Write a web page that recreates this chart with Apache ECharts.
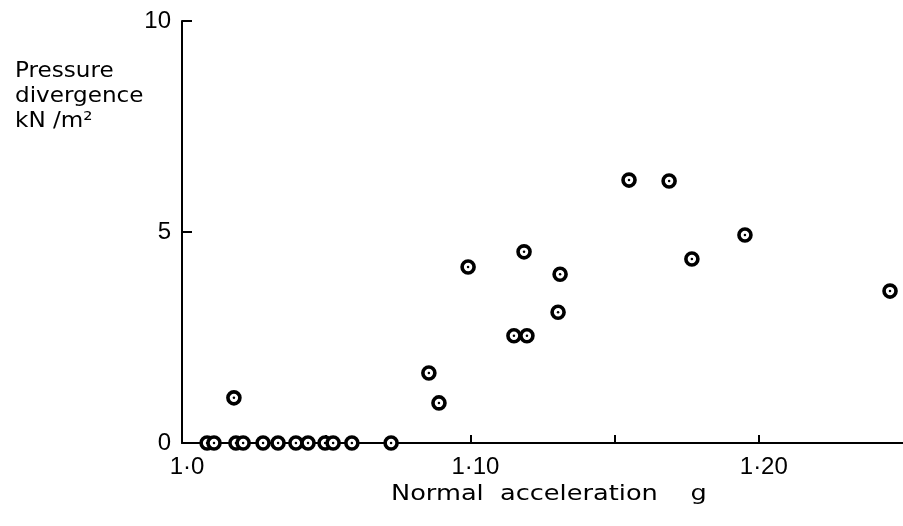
<!DOCTYPE html>
<html>
<head>
<meta charset="utf-8">
<script src="https://cdn.jsdelivr.net/npm/echarts@6/dist/echarts.min.js"></script>
<style>
  html, body { margin: 0; padding: 0; background: #fff; }
  #chart { width: 903px; height: 526px; }
</style>
</head>
<body>
<div id="chart"></div>
<script>
// Normal acceleration (g) against pressure divergence (kN/m²)
const accel = [
  1.0087, 1.0111, 1.0187, 1.0212, 1.0281, 1.0333, 1.0395, 1.0437, 1.0496, 1.0524, 1.0589, 1.0725,
  1.0180, 1.0856, 1.0891, 1.0992, 1.1151, 1.1196, 1.1186, 1.1311, 1.1304,
  1.1550, 1.1689, 1.1768, 1.1952, 1.2455
];
const pressure = [
  0, 0, 0, 0, 0, 0, 0, 0, 0, 0, 0, 0,
  1.07, 1.66, 0.95, 4.17, 2.54, 2.54, 4.53, 4.00, 3.10,
  6.23, 6.21, 4.36, 4.93, 3.60
];
const xTickLabels = { '1': '1·0', '1.1': '1·10', '1.2': '1·20' };
const yTickLabels = { '0': '0', '5': '5', '10': '10' };

const points = accel.map((a, i) => [a, pressure[i]]);
const tickFont = '"Liberation Sans Narrow", "Liberation Sans", sans-serif';
const nameFont = '"DejaVu Sans", sans-serif';

const chart = echarts.init(document.getElementById('chart'));
chart.setOption({
  animation: false,
  backgroundColor: '#fff',
  grid: { left: 182, right: 0, top: 21, bottom: 83 },
  xAxis: {
    type: 'value', min: 1.0, max: 1.25, interval: 0.05,
    splitLine: { show: false },
    axisLine: { lineStyle: { color: '#000', width: 2 } },
    axisTick: { inside: true, length: 8, lineStyle: { color: '#000', width: 2 } },
    axisLabel: {
      color: '#000', fontFamily: tickFont, fontSize: 24, margin: 12,
      padding: [0, 0, 0, 10],
      showMaxLabel: false,
      formatter: v => xTickLabels[String(Math.round(v * 100) / 100)] || ''
    }
  },
  yAxis: {
    type: 'value', min: 0, max: 10, interval: 5,
    splitLine: { show: false },
    axisLine: { lineStyle: { color: '#000', width: 2 } },
    axisTick: { inside: true, length: 10, lineStyle: { color: '#000', width: 2 } },
    axisLabel: {
      color: '#000', fontFamily: tickFont, fontSize: 24, margin: 11,
      formatter: v => yTickLabels[String(v)] || ''
    }
  },
  series: [
    {
      type: 'scatter', data: points, symbol: 'circle', symbolSize: 12,
      itemStyle: { color: '#fff', borderColor: '#000', borderWidth: 3.6, opacity: 1 },
      z: 3
    },
    {
      type: 'scatter', data: points, symbol: 'circle', symbolSize: 2.5,
      itemStyle: { color: '#000', opacity: 1 },
      z: 4, silent: true
    }
  ],
  graphic: [
    {
      type: 'text', x: 15, y: 59, scaleX: 1.1,
      style: {
        text: 'Pressure\ndivergence\nkN /m²',
        fill: '#000', font: '21px ' + nameFont, lineHeight: 25
      }
    },
    {
      type: 'text', x: 391, y: 484, scaleX: 1.22,
      style: {
        text: 'Normal  acceleration    g',
        fill: '#000', font: '21px ' + nameFont
      }
    }
  ]
});
</script>
</body>
</html>
